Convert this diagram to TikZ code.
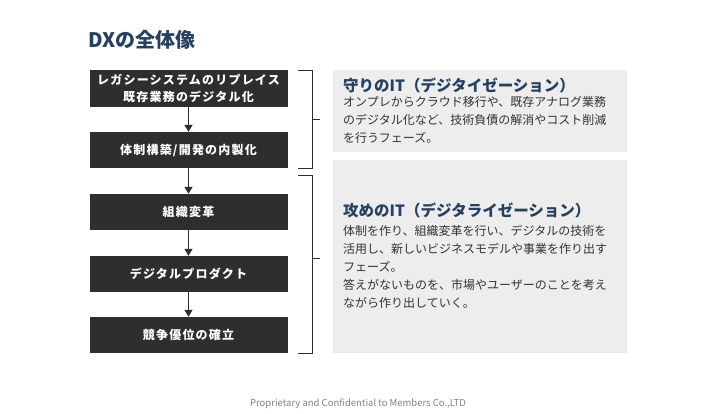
\documentclass[tikz,border=0pt]{standalone}
\usepackage{fontspec}
\setmainfont{Noto Sans CJK JP}
\usetikzlibrary{arrows.meta}
\definecolor{boxc}{HTML}{2E2E2E}
\definecolor{navy}{HTML}{26405F}
\definecolor{panel}{HTML}{EDEDED}
\definecolor{txt}{HTML}{333333}
\tikzset{
  stepbox/.style={fill=boxc,text=white,font=\fontsize{12}{17}\selectfont\bfseries\addfontfeature{LetterSpace=10},align=center,inner sep=0},
  flow/.style={-{Triangle[length=7pt,width=8pt]},line width=1.4pt,draw=boxc},
  brace/.style={line width=0.9pt,draw=boxc},
  head/.style={anchor=west,text=navy,font=\fontsize{15.5}{18}\selectfont\bfseries,inner sep=0},
  body/.style={anchor=north west,text=txt,font=\fontsize{12}{18}\selectfont,align=left,inner sep=0}
}
\begin{document}
\begin{tikzpicture}[x=1pt,y=-1pt]
\useasboundingbox (0,0) rectangle (716,413);
\node[anchor=west,text=navy,font=\fontsize{20}{22}\selectfont\bfseries,inner sep=0] (title) at (88,40) {DXの全体像};
\node[stepbox,minimum width=198pt,minimum height=37pt] (b1) at (188.5,88.5) {レガシーシステムのリプレイス\\既存業務のデジタル化};
\node[stepbox,minimum width=198pt,minimum height=36pt] (b2) at (188.5,150) {体制構築/開発の内製化};
\node[stepbox,minimum width=198pt,minimum height=36pt] (b3) at (188.5,212) {組織変革};
\node[stepbox,minimum width=198pt,minimum height=36pt] (b4) at (188.5,274) {デジタルプロダクト};
\node[stepbox,minimum width=198pt,minimum height=36pt] (b5) at (188.5,335) {競争優位の確立};
\draw[flow] (b1) -- (b2);
\draw[flow] (b2) -- (b3);
\draw[flow] (b3) -- (b4);
\draw[flow] (b4) -- (b5);
\coordinate (t1) at (298,70); \coordinate (t2) at (298,168);
\coordinate (m1) at (312,119); \coordinate (m1e) at (320,119);
\draw[brace] (t1) -| (312,168) -- (t2);
\draw[brace] (m1) -- (m1e);
\coordinate (u1) at (298,175); \coordinate (u2) at (298,353);
\coordinate (m2) at (312,258); \coordinate (m2e) at (320,258);
\draw[brace] (u1) -| (312,353) -- (u2);
\draw[brace] (m2) -- (m2e);
\fill[panel] (333,70) rectangle (627,152);
\fill[panel] (333,160) rectangle (627,353);
\node[head] (h1) at (343,85) {守りのIT（デジタイゼーション）};
\node[body] (p1) at (343,96) {オンプレからクラウド移行や、既存アナログ業務\\のデジタル化など、技術負債の解消やコスト削減\\を行うフェーズ。};
\node[head] (h2) at (343,210) {攻めのIT（デジタライゼーション）};
\node[body] (p2) at (343,225) {体制を作り、組織変革を行い、デジタルの技術を\\活用し、新しいビジネスモデルや事業を作り出す\\フェーズ。\\答えがないものを、市場やユーザーのことを考え\\ながら作り出していく。};
\node[text=gray,font=\fontsize{9.5}{11}\selectfont,inner sep=0] (foot) at (358,404) {Proprietary and Confidential to Members Co.,LTD};
\end{tikzpicture}
\end{document}
